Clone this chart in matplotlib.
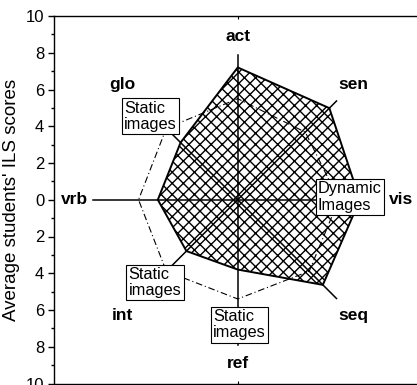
import numpy as np
import matplotlib
matplotlib.use('Agg')
import matplotlib.pyplot as plt
from matplotlib.ticker import FuncFormatter, MultipleLocator

plt.rcParams['font.family'] = ['Liberation Sans', 'DejaVu Sans']

# ILS dimensions, counter-clockwise starting at "vis" (0 degrees)
dims = ['vis', 'sen', 'act', 'glo', 'vrb', 'int', 'ref', 'seq']
angles_deg = [0, 45, 90, 135, 180, 225, 270, 315]

# hatched area (dynamic images group)
dynamic_scores = [6.65, 7.05, 7.2, 4.4, 4.35, 3.95, 3.8, 6.55]
# dash-dot outline (static images group)
static_scores = [5.5, 5.2, 5.5, 5.5, 5.4, 5.5, 5.4, 5.5]

# length of the radial axis lines
axis_len = [7.9, 7.6, 7.9, 7.6, 7.9, 7.6, 7.9, 7.6]

box_texts = ['Static\nimages', 'Static\nimages', 'Static\nimages', 'Dynamic\nImages']
box_xy = [(-4.75, 4.55), (-4.5, -4.5), (0.1, -6.8), (6.1, 0.15)]


def xy(r, ang):
    a = np.deg2rad(np.array(ang))
    r = np.array(r)
    return r * np.cos(a), r * np.sin(a)


fig = plt.figure(figsize=(4.17, 3.85), dpi=100)
ax = fig.add_axes([54 / 417, 1.5 / 385, 367.5 / 417, 367.5 / 385])
ax.set_xlim(-10, 10)
ax.set_ylim(-10, 10)

# radial axes
for L, a in zip(axis_len, angles_deg):
    x, y = xy([0, L], [a, a])
    ax.plot(x, y, color='black', lw=1.1, zorder=2)

# static outline (dash-dot)
sx, sy = xy(static_scores + static_scores[:1], angles_deg + angles_deg[:1])
ax.plot(sx, sy, color='black', lw=0.8, linestyle=(0, (6, 2.5, 1, 2.5)), zorder=3)

# dynamic polygon (cross hatched)
dx, dy = xy(dynamic_scores, angles_deg)
ax.fill(dx, dy, facecolor='none', edgecolor='black', hatch='xxx', lw=1.4, zorder=4)

# dimension labels
lx, ly = xy([8.9] * len(dims), angles_deg)
for name, x, y in zip(dims, lx, ly):
    ax.text(x, y, name, ha='center', va='center', fontsize=12.5, fontweight='bold', zorder=6)

# group boxes
for t, (x, y) in zip(box_texts, box_xy):
    ax.text(x, y, t, ha='center', va='center', multialignment='left', fontsize=11.8,
            linespacing=1.1, zorder=7,
            bbox=dict(boxstyle='square,pad=0.14', facecolor='white', edgecolor='black', lw=0.8))

# axis styling
ax.yaxis.set_major_locator(MultipleLocator(2))
ax.yaxis.set_minor_locator(MultipleLocator(1))
ax.yaxis.set_major_formatter(FuncFormatter(lambda v, p: '%d' % abs(v)))
ax.tick_params(axis='y', which='major', direction='out', length=4, width=1, labelsize=12, pad=3)
ax.tick_params(axis='y', which='minor', direction='out', length=2.5, width=1)
ax.set_xticks([0])
ax.tick_params(axis='x', which='major', direction='in', length=2, top=True, bottom=True,
               labelbottom=False, labeltop=False)
for s in ax.spines.values():
    s.set_linewidth(1.0)
ax.set_ylabel("Average students' ILS scores", fontsize=13.5, labelpad=4)

fig.savefig('out.png', dpi=100)
